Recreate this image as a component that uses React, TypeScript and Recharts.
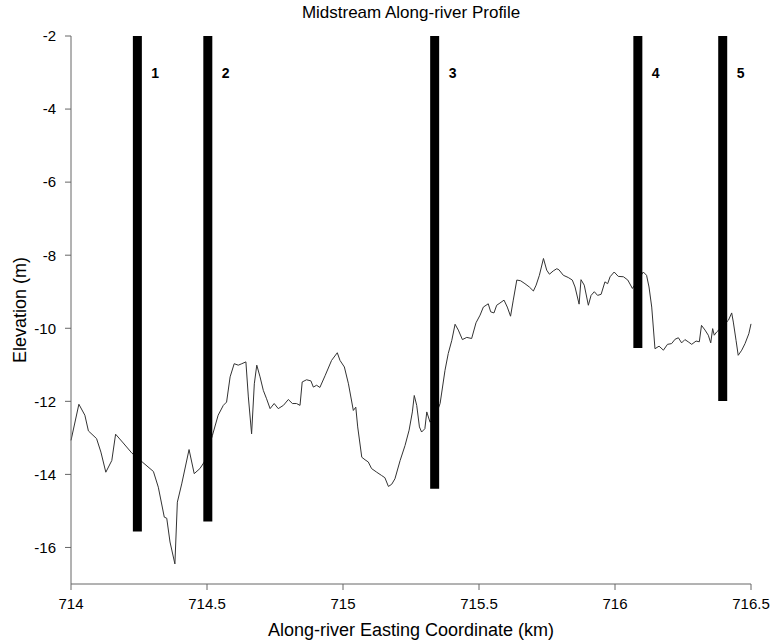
import { LineChart, Line, XAxis, YAxis, ReferenceLine, ReferenceDot } from "recharts";

// midstream elevation profile (easting km, elevation m)
const eastingKm = [
  714.0, 714.029, 714.051, 714.064, 714.094, 714.11, 714.128, 714.15, 714.164, 714.192,
  714.223, 714.262, 714.303, 714.321, 714.343, 714.352, 714.364, 714.382, 714.391, 714.407,
  714.434, 714.453, 714.474, 714.49, 714.52, 714.541, 714.56, 714.572, 714.585, 714.6,
  714.615, 714.628, 714.643, 714.652, 714.664, 714.674, 714.683, 714.695, 714.707, 714.719,
  714.732, 714.747, 714.762, 714.781, 714.799, 714.814, 714.829, 714.842, 714.85, 714.866,
  714.882, 714.891, 714.903, 714.915, 714.934, 714.958, 714.979, 714.989, 715.005, 715.02,
  715.038, 715.047, 715.054, 715.069, 715.081, 715.093, 715.105, 715.124, 715.142, 715.154,
  715.167, 715.179, 715.191, 715.21, 715.228, 715.243, 715.255, 715.262, 715.271, 715.281,
  715.289, 715.301, 715.308, 715.32, 715.34, 715.357, 715.375, 715.387, 715.4, 715.412,
  715.424, 715.439, 715.455, 715.473, 715.489, 715.504, 715.516, 715.526, 715.534, 715.543,
  715.555, 715.565, 715.577, 715.592, 715.604, 715.616, 715.626, 715.639, 715.653, 715.669,
  715.685, 715.7, 715.71, 715.722, 715.737, 715.749, 715.759, 715.773, 715.786, 715.794,
  715.81, 715.828, 715.843, 715.853, 715.868, 715.875, 715.887, 715.902, 715.912, 715.924,
  715.936, 715.949, 715.963, 715.973, 715.982, 715.997, 716.012, 716.031, 716.047, 716.064,
  716.104, 716.116, 716.125, 716.135, 716.147, 716.162, 716.178, 716.193, 716.208, 716.221,
  716.233, 716.245, 716.257, 716.269, 716.282, 716.298, 716.31, 716.318, 716.331, 716.343,
  716.352, 716.359, 716.365, 716.374, 716.417, 716.429, 716.435, 716.445, 716.453, 716.466,
  716.478, 716.492, 716.5,
];

const elevationM = [
  -13.07, -12.08, -12.38, -12.81, -13.02, -13.39, -13.94, -13.62, -12.9, -13.14,
  -13.41, -13.66, -13.92, -14.35, -15.17, -15.2, -15.85, -16.45, -14.76, -14.26,
  -13.32, -13.98, -13.84, -13.66, -12.93, -12.38, -12.11, -12.02, -11.33, -10.97,
  -11.01, -10.97, -10.92, -11.88, -12.89, -11.52, -11.01, -11.33, -11.7, -11.93,
  -12.2, -12.06, -12.2, -12.11, -11.95, -12.06, -12.06, -12.11, -11.47, -11.41,
  -11.44, -11.61, -11.56, -11.62, -11.3, -10.88, -10.67, -10.88, -11.06, -11.52,
  -12.25, -12.16, -12.7, -13.53, -13.6, -13.66, -13.84, -13.94, -14.03, -14.09,
  -14.33, -14.27, -14.12, -13.62, -13.21, -12.79, -12.29, -11.84, -12.11, -12.7,
  -12.84, -12.75, -12.29, -12.57, -12.4, -12.06, -11.15, -10.69, -10.33, -9.89,
  -10.05, -10.31, -10.25, -10.28, -9.85, -9.64, -9.42, -9.37, -9.33, -9.55,
  -9.58, -9.37, -9.31, -9.23, -9.42, -9.67, -9.23, -8.68, -8.7, -8.78,
  -8.87, -8.98, -8.82, -8.55, -8.09, -8.41, -8.52, -8.43, -8.37, -8.4,
  -8.55, -8.61, -8.68, -8.87, -9.34, -8.67, -8.82, -9.37, -9.1, -9.0,
  -9.1, -9.07, -8.73, -8.78, -8.59, -8.46, -8.58, -8.59, -8.68, -8.91,
  -8.46, -8.55, -8.87, -9.42, -10.56, -10.49, -10.6, -10.44, -10.42, -10.3,
  -10.26, -10.4, -10.31, -10.37, -10.44, -10.35, -10.37, -9.92, -10.05, -10.19,
  -10.4, -10.01, -10.19, -10.1, -9.78, -9.58, -9.83, -10.33, -10.74, -10.6,
  -10.42, -10.15, -9.88,
];

// numbered section markers: easting, lower end of the bar, label
const markerEasting = [714.244, 714.503, 715.337, 716.084, 716.396];
const markerBottom = [-15.56, -15.29, -14.39, -10.54, -11.99];
const markerLabels = ["1", "2", "3", "4", "5"];
const markerTop = -2;
const markerLabelY = -3;

const xTicks = [714, 714.5, 715, 715.5, 716, 716.5];
const yTicks = [-16, -14, -12, -10, -8, -6, -4, -2];

const data = eastingKm.map((x, i) => ({ x, elev: elevationM[i] }));

const font = "'Liberation Sans', Arial, Helvetica, sans-serif";
const axisColor = "#666";

export default function App() {
  // pinned to the top of the page so the title has room above the plot
  return (
    <div style={{ position: "absolute", top: 0, left: 8, width: 768, height: 640, fontFamily: font }}>
      <LineChart
        width={768}
        height={640}
        data={data}
        margin={{ top: 36, right: 25, left: 0, bottom: 4 }}
      >
        <XAxis
          type="number"
          dataKey="x"
          domain={[714, 716.5]}
          ticks={xTicks}
          tickFormatter={(v) => String(v)}
          stroke={axisColor}
          tickSize={6}
          tickMargin={8}
          tick={{ fill: "#000", fontSize: 15 }}
          height={52}
          label={{
            value: "Along-river Easting Coordinate (km)",
            position: "insideBottom",
            offset: 0,
            fill: "#000",
            fontSize: 18,
          }}
        />
        <YAxis
          type="number"
          domain={[-17, -2]}
          ticks={yTicks}
          stroke={axisColor}
          tickSize={6}
          tickMargin={9}
          tick={{ fill: "#000", fontSize: 15 }}
          width={63}
          label={{
            value: "Elevation (m)",
            angle: -90,
            position: "insideLeft",
            offset: 12,
            fill: "#000",
            fontSize: 18,
            style: { textAnchor: "middle" },
          }}
        />
        <Line
          type="linear"
          dataKey="elev"
          stroke="#333"
          strokeWidth={1}
          dot={false}
          isAnimationActive={false}
        />
        {markerEasting.map((x, i) => (
          <ReferenceLine
            key={`bar-${i}`}
            segment={[
              { x, y: markerTop },
              { x, y: markerBottom[i] },
            ]}
            stroke="#000"
            strokeWidth={9}
          />
        ))}
        {markerEasting.map((x, i) => (
          <ReferenceDot
            key={`lbl-${i}`}
            x={x}
            y={markerLabelY}
            r={0}
            stroke="none"
            fill="none"
            label={{
              value: markerLabels[i],
              position: "right",
              offset: 14,
              fill: "#000",
              fontSize: 14,
              fontWeight: "bold",
            }}
          />
        ))}
        {/* chart title, centred over the plot area */}
        <text x={403} y={18} textAnchor="middle" fontSize={17} fill="#000">
          Midstream Along-river Profile
        </text>
      </LineChart>
    </div>
  );
}
